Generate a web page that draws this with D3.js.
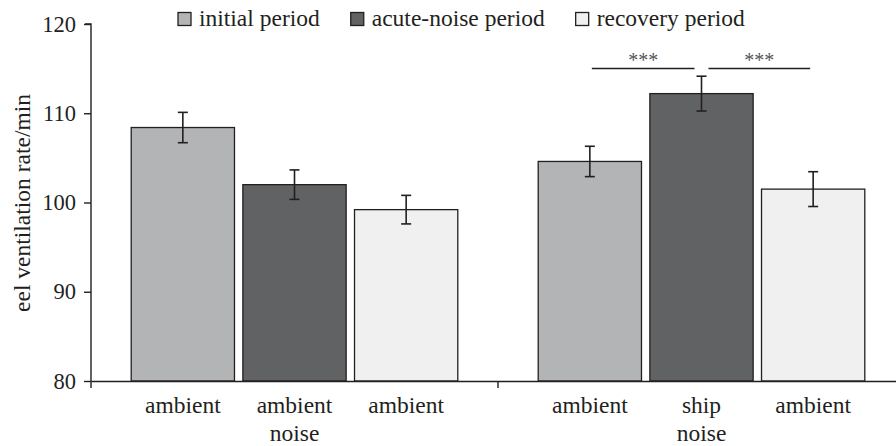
<!DOCTYPE html>
<html>
<head>
<meta charset="utf-8">
<script src="https://cdn.jsdelivr.net/npm/d3@7"></script>
<style>
  body { margin: 0; background: #fff; }
  text { font-family: "Liberation Serif", "Times New Roman", serif; fill: #231f20; }
</style>
</head>
<body>
<div id="chart"></div>
<script>
const groups = ["ambient-group", "ship-group"];
const periods = ["initial period", "acute-noise period", "recovery period"];
const periodColors = ["#b3b4b6", "#616264", "#f0f0f0"];
const rates = [
  [108.4, 102.0, 99.2],
  [104.6, 112.2, 101.5]
];
const errors = [
  [1.7, 1.65, 1.6],
  [1.7, 1.95, 1.95]
];
const barLabels = [
  [["ambient"], ["ambient", "noise"], ["ambient"]],
  [["ambient"], ["ship", "noise"], ["ambient"]]
];
const yTicks = [80, 90, 100, 110, 120];
// significance brackets: group, from bar, to bar
const sigPairs = [
  { group: 1, from: 0, to: 1, label: "***" },
  { group: 1, from: 1, to: 2, label: "***" }
];

const width = 896, height = 446;
const margin = { top: 24, left: 91, bottom: 65 };
const plotBottom = height - margin.bottom;

const svg = d3.select("#chart").append("svg")
  .attr("width", width)
  .attr("height", height);

const y = d3.scaleLinear().domain([80, 120]).range([plotBottom, margin.top]);

const x0 = d3.scaleBand().domain(groups).range([margin.left, 905]).padding(0);
const x1 = d3.scaleBand().domain(d3.range(3))
  .range([0, x0.bandwidth()])
  .paddingInner(0.075)
  .paddingOuter(0.36);

// bars
groups.forEach((g, gi) => {
  const gEl = svg.append("g").attr("transform", `translate(${x0(g)},0)`);
  gEl.selectAll("rect")
    .data(rates[gi])
    .join("rect")
    .attr("x", (d, i) => x1(i))
    .attr("y", d => y(d))
    .attr("width", x1.bandwidth())
    .attr("height", d => plotBottom - y(d))
    .attr("fill", (d, i) => periodColors[i])
    .attr("stroke", "#231f20")
    .attr("stroke-width", 1.3);

  // error bars
  const eb = gEl.selectAll("g.err")
    .data(rates[gi].map((v, i) => ({ v, e: errors[gi][i], i })))
    .join("g").attr("class", "err");
  eb.append("line")
    .attr("x1", d => x1(d.i) + x1.bandwidth() / 2)
    .attr("x2", d => x1(d.i) + x1.bandwidth() / 2)
    .attr("y1", d => y(d.v - d.e))
    .attr("y2", d => y(d.v + d.e));
  eb.append("line")
    .attr("x1", d => x1(d.i) + x1.bandwidth() / 2 - 5)
    .attr("x2", d => x1(d.i) + x1.bandwidth() / 2 + 5)
    .attr("y1", d => y(d.v + d.e))
    .attr("y2", d => y(d.v + d.e));
  eb.append("line")
    .attr("x1", d => x1(d.i) + x1.bandwidth() / 2 - 5)
    .attr("x2", d => x1(d.i) + x1.bandwidth() / 2 + 5)
    .attr("y1", d => y(d.v - d.e))
    .attr("y2", d => y(d.v - d.e));
  eb.selectAll("line").attr("stroke", "#231f20").attr("stroke-width", 1.6);

  // category labels
  const lbl = gEl.selectAll("text.cat")
    .data(barLabels[gi])
    .join("text").attr("class", "cat")
    .attr("text-anchor", "middle")
    .attr("font-size", 23.5)
    .attr("transform", (d, i) => `translate(${x1(i) + x1.bandwidth() / 2},${plotBottom + 32})`);
  lbl.selectAll("tspan")
    .data(d => d)
    .join("tspan")
    .attr("x", 0)
    .attr("dy", (d, i) => i === 0 ? 0 : 27.5)
    .text(d => d);
});

// y axis
const yAxis = svg.append("g")
  .attr("transform", `translate(${margin.left},0)`)
  .call(d3.axisLeft(y).tickValues(yTicks).tickSize(7).tickPadding(8));
yAxis.select(".domain").attr("d", `M-6,${margin.top}H0V${plotBottom + 7}`);
yAxis.selectAll("path, line").attr("stroke", "#231f20").attr("stroke-width", 1.4);
yAxis.selectAll("text")
  .attr("font-size", 22.5)
  .attr("fill", "#231f20");

// x axis
const xAxis = svg.append("g")
  .attr("transform", `translate(0,${plotBottom})`)
  .call(d3.axisBottom(x0).tickValues([]).tickSizeOuter(0));
xAxis.select(".domain").attr("stroke", "#231f20").attr("stroke-width", 1.6);
xAxis.append("line")
  .attr("x1", x0(groups[1])).attr("x2", x0(groups[1]))
  .attr("y1", 0).attr("y2", 7)
  .attr("stroke", "#231f20").attr("stroke-width", 1.4);

// y label
svg.append("text")
  .attr("transform", `translate(30,203) rotate(-90)`)
  .attr("text-anchor", "middle")
  .attr("font-size", 23.5)
  .text("eel ventilation rate/min");

// significance lines
const sigY = 68.5;
sigPairs.forEach(s => {
  const gx = x0(groups[s.group]);
  const a = gx + x1(s.from) + x1.bandwidth() / 2 + 2;
  const b = gx + x1(s.to) + x1.bandwidth() / 2 - 7;
  const aa = s.from === 1 ? a + 5 : a;
  const bb = s.from === 1 ? b + 4 : b;
  svg.append("line")
    .attr("x1", aa).attr("x2", bb)
    .attr("y1", sigY).attr("y2", sigY)
    .attr("stroke", "#231f20").attr("stroke-width", 1.4);
  svg.append("text")
    .attr("x", (aa + bb) / 2)
    .attr("y", sigY - 2)
    .attr("text-anchor", "middle")
    .attr("font-size", 20)
    .style("fill", "#555")
    .text(s.label);
});

// legend
let lx = 178;
periods.forEach((p, i) => {
  svg.append("rect")
    .attr("x", lx).attr("y", 12.5)
    .attr("width", 13).attr("height", 13)
    .attr("fill", periodColors[i])
    .attr("stroke", "#231f20").attr("stroke-width", 1.3);
  const t = svg.append("text")
    .attr("x", lx + 21).attr("y", 26)
    .attr("font-size", 23.5)
    .text(p);
  lx += 21 + t.node().getComputedTextLength() + 31;
});
</script>
</body>
</html>
